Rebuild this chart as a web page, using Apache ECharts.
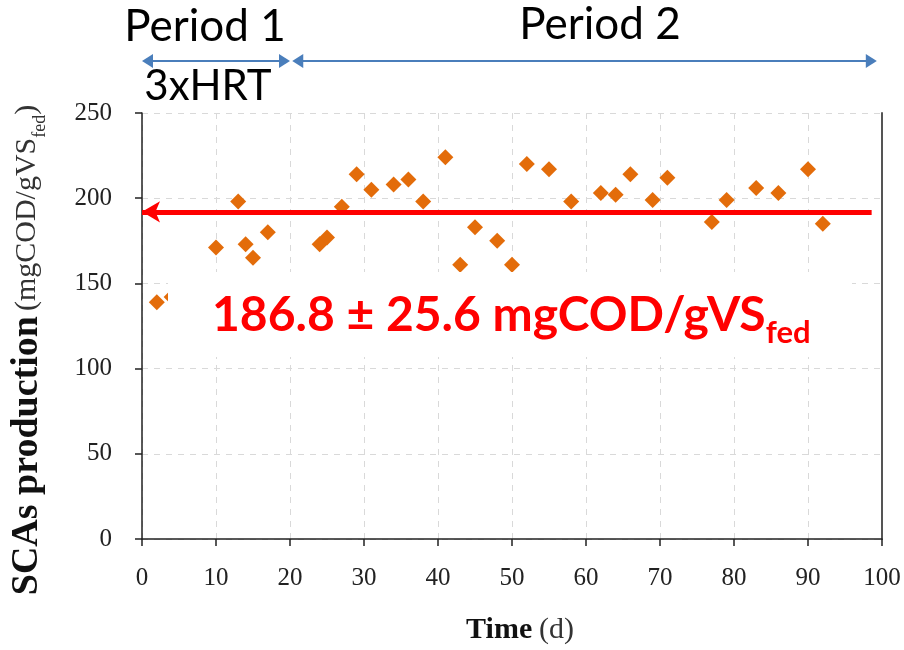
<!DOCTYPE html>
<html>
<head>
<meta charset="utf-8">
<script src="https://cdn.jsdelivr.net/npm/echarts@6/dist/echarts.min.js"></script>
<style>
  html, body { margin: 0; padding: 0; background: #fff; }
  #chart { width: 904px; height: 650px; }
</style>
</head>
<body>
<div id="chart"></div>
<script>
// sampling days and SCAs production values (mgCOD/gVSfed)
const days = [2, 4, 10, 13, 14, 15, 17, 24, 25, 27, 29, 31, 34, 36, 38, 41, 43, 45, 48, 50,
  52, 55, 58, 62, 64, 66, 69, 71, 77, 79, 83, 86, 90, 92];
const production = [139, 142, 171, 198, 173, 165, 180, 173, 177, 195, 214, 205, 208, 211, 198, 224, 161, 183, 175, 161,
  220, 217, 198, 203, 202, 214, 199, 212, 186, 199, 206, 203, 217, 185];

// average line (drawn position) and its extent in days
const meanLevel = 192;
const meanRange = [0, 98.6];

// periods shown above the plot
const periodNames = ["Period 1", "Period 2"];
const periodStart = [0, 20.3];
const periodEnd = [20, 99.3];

const xTicks = [0, 100, 10];
const yTicks = [0, 250, 50];

const chart = echarts.init(document.getElementById("chart"));

const points = days.map((d, i) => [d, production[i]]);

const option = {
  animation: false,
  backgroundColor: "#fff",
  grid: { left: 142, right: 22, top: 113, bottom: 107 },
  xAxis: {
    type: "value",
    min: xTicks[0],
    max: xTicks[1],
    interval: xTicks[2],
    name: "{b|Time}  {n|(d)}",
    nameLocation: "middle",
    nameGap: 76,
    nameTextStyle: {
      padding: [0, 0, 0, 16],
      rich: {
        b: { fontFamily: "Liberation Serif", fontWeight: "bold", fontSize: 30, color: "#111" },
        n: { fontFamily: "Liberation Serif", fontSize: 30, color: "#333" },
      },
    },
    axisLine: { lineStyle: { color: "#222", width: 1.5 } },
    axisTick: { show: true, inside: false, length: 7, lineStyle: { color: "#222", width: 1.5 } },
    axisLabel: { margin: 27, fontFamily: "Liberation Serif", fontSize: 25, color: "#222" },
    splitLine: { show: true, lineStyle: { color: "#d9d9d9", type: [6, 6], width: 1 } },
  },
  yAxis: [
    {
      type: "value",
      min: yTicks[0],
      max: yTicks[1],
      interval: yTicks[2],
      axisLine: { show: true, lineStyle: { color: "#222", width: 1.5 } },
      axisTick: { show: true, inside: false, length: 7, lineStyle: { color: "#222", width: 1.5 } },
      axisLabel: { margin: 30, fontFamily: "Liberation Serif", fontSize: 25, color: "#222" },
      splitLine: { show: true, lineStyle: { color: "#d9d9d9", type: [6, 6], width: 1 } },
    },
    {
      type: "value",
      position: "right",
      min: yTicks[0],
      max: yTicks[1],
      interval: yTicks[2],
      axisLine: { show: true, lineStyle: { color: "#555", width: 2 } },
      axisTick: { show: false },
      axisLabel: { show: false },
      splitLine: { show: false },
    },
  ],
  series: [
    {
      type: "scatter",
      data: points,
      symbol: "diamond",
      symbolSize: 16,
      itemStyle: { color: "#E36C0A", opacity: 1 },
      z: 3,
      markLine: {
        silent: true,
        symbol: ["arrow", "none"],
        symbolSize: [16, 18],
        label: { show: false },
        lineStyle: { color: "#FF0000", width: 5, type: "solid" },
        data: [[{ coord: [meanRange[0], meanLevel] }, { coord: [meanRange[1], meanLevel] }]],
      },
    },
  ],
};

chart.setOption(option);

// annotations placed after layout, x positions taken from the x axis
function arrowShape(x1, x2, y, color) {
  const head = 11, half = 7;
  return {
    type: "group",
    children: [
      { type: "line", shape: { x1: x1 + head - 1, y1: y, x2: x2 - head + 1, y2: y }, style: { stroke: color, lineWidth: 2.2 } },
      { type: "polygon", shape: { points: [[x1, y], [x1 + head, y - half], [x1 + head, y + half]] }, style: { fill: color } },
      { type: "polygon", shape: { points: [[x2, y], [x2 - head, y - half], [x2 - head, y + half]] }, style: { fill: color } },
    ],
  };
}

const px = (v) => chart.convertToPixel({ xAxisIndex: 0 }, v);
const blue = "#4A7EBB";
const graphics = [];
periodNames.forEach((name, i) => {
  graphics.push(arrowShape(px(periodStart[i]), px(periodEnd[i]), 61, blue));
});

graphics.push(
  { type: "text", x: 205, y: 27, style: { text: periodNames[0], font: "44px Lato", fill: "#000", align: "center", verticalAlign: "middle" } },
  { type: "text", x: 600, y: 25, style: { text: periodNames[1], font: "44px Lato", fill: "#000", align: "center", verticalAlign: "middle" } },
  { type: "text", x: 208, y: 86, style: { text: "3xHRT", font: "42px Lato", fill: "#000", align: "center", verticalAlign: "middle" } },
  // white box behind the mean value text
  { type: "rect", shape: { x: 168, y: 272, width: 684, height: 85 }, style: { fill: "#fff" }, z: 50 },
  {
    type: "text",
    x: 212,
    y: 316,
    z: 51,
    style: {
      text: "{a|186.8 ± 25.6 mgCOD/gVS}{s|fed}",
      align: "left",
      verticalAlign: "middle",
      rich: {
        a: { fontFamily: "Lato", fontWeight: "bold", fontSize: 48, fill: "#FF0000", lineHeight: 64, verticalAlign: "middle" },
        s: { fontFamily: "Lato", fontWeight: "bold", fontSize: 31, fill: "#FF0000", lineHeight: 26, verticalAlign: "bottom" },
      },
    },
  },
  {
    type: "text",
    x: 27,
    y: 350,
    rotation: Math.PI / 2,
    style: {
      text: "{b|SCAs production}{g| }{n|(mgCOD/gVS}{s|fed}{n|)}",
      align: "center",
      verticalAlign: "middle",
      rich: {
        b: { fontFamily: "Liberation Serif", fontWeight: "bold", fontSize: 38, fill: "#111", lineHeight: 44, verticalAlign: "middle" },
        g: { fontFamily: "Liberation Serif", fontSize: 20, fill: "#111", lineHeight: 44, verticalAlign: "middle" },
        n: { fontFamily: "Liberation Serif", fontSize: 30, fill: "#333", lineHeight: 44, verticalAlign: "middle" },
        s: { fontFamily: "Liberation Serif", fontSize: 18, fill: "#333", lineHeight: 20, verticalAlign: "bottom" },
      },
    },
  }
);

chart.setOption({ graphic: { elements: graphics } });
</script>
</body>
</html>
